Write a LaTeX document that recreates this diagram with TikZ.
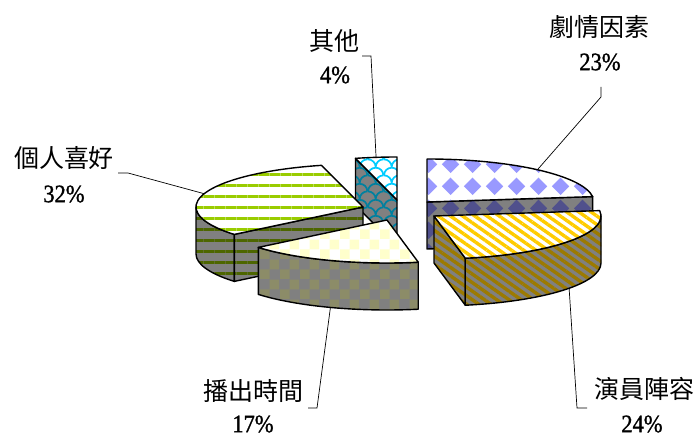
\documentclass[tikz,border=0pt]{standalone}
\usepackage{fontspec}
\setmainfont{Liberation Serif}
\newfontfamily\cjk{Noto Sans CJK TC}
\newfontfamily\pctfont[FakeStretch=0.9,FakeBold=1.2]{Liberation Serif}
\usetikzlibrary{calc,patterns,patterns.meta}

\definecolor{sidegray}{HTML}{808080}
\definecolor{jblue}{HTML}{9999FF}
\definecolor{jdark}{HTML}{50508C}
\definecolor{qcyan}{HTML}{00CCFF}
\definecolor{qteal}{HTML}{00809F}
\definecolor{ggreen}{HTML}{99CC00}
\definecolor{gdark}{HTML}{4D6600}
\definecolor{bcream}{HTML}{FFFFCC}
\definecolor{bolive}{HTML}{8C8C68}
\definecolor{ygold}{HTML}{FFCC00}
\definecolor{ybrown}{HTML}{9C7A00}

\pgfdeclarepatternformonly{diamondgrid}{\pgfpointorigin}{\pgfpoint{22pt}{22pt}}{\pgfpoint{22pt}{22pt}}{%
  \pgfpathmoveto{\pgfpoint{11pt}{2pt}}%
  \pgfpathlineto{\pgfpoint{20pt}{11pt}}%
  \pgfpathlineto{\pgfpoint{11pt}{20pt}}%
  \pgfpathlineto{\pgfpoint{2pt}{11pt}}%
  \pgfpathclose\pgfusepath{fill}}
\pgfdeclarepatternformonly{bigchecker}{\pgfpointorigin}{\pgfpoint{20pt}{20pt}}{\pgfpoint{20pt}{20pt}}{%
  \pgfpathrectangle{\pgfpointorigin}{\pgfpoint{10pt}{10pt}}%
  \pgfpathrectangle{\pgfpoint{10pt}{10pt}}{\pgfpoint{10pt}{10pt}}%
  \pgfusepath{fill}}
\pgfdeclarepatternformonly{fishscale}{\pgfpointorigin}{\pgfpoint{16pt}{16pt}}{\pgfpoint{16pt}{16pt}}{%
  \pgfsetlinewidth{1.8pt}%
  \pgfpathmoveto{\pgfpoint{0pt}{8pt}}\pgfpatharc{180}{0}{8pt}%
  \pgfpathmoveto{\pgfpoint{8pt}{0pt}}\pgfpatharc{0}{90}{8pt}%
  \pgfpathmoveto{\pgfpoint{16pt}{8pt}}\pgfpatharc{90}{180}{8pt}%
  \pgfusepath{stroke}}

\tikzset{
  pie/.style={x radius=167, y radius=43},
  rim/.style={draw=black, line width=1.4pt, line join=round},
  jtop/.style={rim, preaction={fill=white}, pattern=diamondgrid, pattern color=jblue},
  jside/.style={rim, preaction={fill=sidegray}, pattern=diamondgrid, pattern color=jdark},
  qtop/.style={rim, preaction={fill=white}, pattern=fishscale, pattern color=qcyan},
  qside/.style={rim, preaction={fill=sidegray}, pattern=fishscale, pattern color=qteal},
  gtop/.style={rim, preaction={fill=white}, pattern={Lines[angle=0,distance=11pt,line width=3pt]}, pattern color=ggreen},
  gside/.style={rim, preaction={fill=sidegray}, pattern={Lines[angle=0,distance=11pt,line width=3pt]}, pattern color=gdark},
  btop/.style={rim, preaction={fill=white}, pattern=bigchecker, pattern color=bcream},
  bside/.style={rim, preaction={fill=sidegray}, pattern=bigchecker, pattern color=bolive},
  ytop/.style={rim, preaction={fill=white}, pattern={Lines[angle=-35,distance=7pt,line width=3.4pt]}, pattern color=ygold},
  yside/.style={rim, preaction={fill=sidegray}, pattern={Lines[angle=-35,distance=7pt,line width=3.4pt]}, pattern color=ybrown},
  leader/.style={draw=black, line width=0.7pt},
  catlabel/.style={font=\cjk\fontsize{25}{30}\selectfont, inner sep=0pt},
  pctlabel/.style={font=\pctfont\fontsize{25}{28}\selectfont, inner sep=0pt}
}

\begin{document}
\begin{tikzpicture}[x=1pt, y=1pt]
  \useasboundingbox (0,0) rectangle (694,439);

  % apex of every slice
  \coordinate (cJ) at (427,237);
  \coordinate (cQ) at (397,239);
  \coordinate (cG) at (363,232);
  \coordinate (cB) at (387,219);
  \coordinate (cY) at (434,223);

  % corners on the rims
  \coordinate (J1) at ($(cJ)+(7.2:167 and 43)$);
  \coordinate (Q1) at ($(cQ)+(90:167 and 43)$);
  \coordinate (Q2) at ($(cQ)+(104.4:167 and 43)$);
  \coordinate (G1) at ($(cG)+(104.4:167 and 43)$);
  \coordinate (G2) at ($(cG)+(180:167 and 43)$);
  \coordinate (G3) at ($(cG)+(219.6:167 and 43)$);
  \coordinate (B1) at ($(cB)+(219.6:167 and 43)$);
  \coordinate (Y1) at ($(cY)+(280.8:167 and 43)$);
  \coordinate (Y2) at ($(cY)+(0:167 and 43)$);

  % 劇情因素
  \path[jside] (cJ) -- (J1) -- ++(0,-47) -- ($(cJ)+(0,-47)$) -- cycle;
  \path[jtop] (cJ) -- (J1) arc[pie, start angle=7.2, end angle=90] -- cycle;

  % 其他
  \path[qside] (cQ) -- (Q2) -- ++(0,-47) -- ($(cQ)+(0,-47)$) -- cycle;
  \path[qtop] (cQ) -- (Q1) arc[pie, start angle=90, end angle=104.4] -- cycle;

  % 個人喜好
  \path[gside] (G2) arc[pie, start angle=180, end angle=219.6] -- ++(0,-47)
    arc[pie, start angle=219.6, end angle=180] -- cycle;
  \path[gside] (cG) -- (G3) -- ++(0,-47) -- ($(cG)+(0,-47)$) -- cycle;
  \path[gtop] (cG) -- (G1) arc[pie, start angle=104.4, end angle=219.6] -- cycle;

  % 播出時間
  \path[bside] (B1) arc[pie, start angle=219.6, end angle=280.8] -- ++(0,-47)
    arc[pie, start angle=280.8, end angle=219.6] -- cycle;
  \path[btop] (cB) -- (B1) arc[pie, start angle=219.6, end angle=280.8] -- cycle;

  % 演員陣容
  \path[yside] (cY) -- (Y1) -- ++(0,-47) -- ($(cY)+(0,-47)$) -- cycle;
  \path[yside] (Y1) arc[pie, start angle=280.8, end angle=360] -- ++(0,-47)
    arc[pie, start angle=360, end angle=280.8] -- cycle;
  \path[ytop] (cY) -- (Y1) arc[pie, start angle=280.8, end angle=367.2] -- cycle;

  % labels
  \node[catlabel] (lJ) at (599,412) {劇情因素};
  \node[pctlabel] (pJ) at (600,377) {23\%};
  \node[catlabel] (lQ) at (334,398) {其他};
  \node[pctlabel] (pQ) at (335,364) {4\%};
  \node[catlabel] (lG) at (64,281) {個人喜好};
  \node[pctlabel] (pG) at (64,245) {32\%};
  \node[catlabel] (lB) at (253,48) {播出時間};
  \node[pctlabel] (pB) at (253,15) {17\%};
  \node[catlabel] (lY) at (644,50) {演員陣容};
  \node[pctlabel] (pY) at (642,15) {24\%};

  % leader lines
  \coordinate (mJ) at ($(cJ)+(48.6:167 and 43)$);
  \coordinate (mQ) at ($(cQ)+(97.2:167 and 43)$);
  \coordinate (mG) at ($(cG)+(162:167 and 43)$);
  \coordinate (mB) at ($(cB)+(250.2:167 and 43)+(0,-47)$);
  \coordinate (mY) at ($(cY)+(324:167 and 43)+(0,-47)$);
  \coordinate (kJ) at (601,352);
  \coordinate (kQ) at (362,383);
  \coordinate (kG) at (118,266);
  \coordinate (kB) at (308,31);
  \coordinate (kY) at (587,31);
  \draw[leader] (kJ) -- ++(0,-10) -- (mJ);
  \draw[leader] (kQ) -- ++(9,0) -- (mQ);
  \draw[leader] (kG) -- ++(10,0) -- (mG);
  \draw[leader] (kB) -- ++(9,0) -- (mB);
  \draw[leader] (kY) -- ++(-10,0) -- (mY);
\end{tikzpicture}
\end{document}
